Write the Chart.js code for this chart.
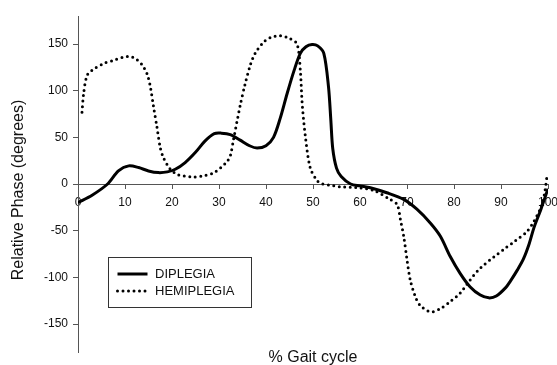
<!DOCTYPE html>
<html>
<head>
<meta charset="utf-8">
<script src="https://cdn.jsdelivr.net/npm/chart.js@4.4.1/dist/chart.umd.min.js"></script>
<style>
  html, body { margin: 0; padding: 0; background: #fff; }
  #wrap { width: 557px; height: 365px; }
</style>
</head>
<body>
<div id="wrap"><canvas id="phaseChart" width="557" height="365"></canvas></div>
<script>
// % gait cycle vs relative phase (degrees)
const dipX = [0, 3, 6.3, 8.6, 10.8, 12.9, 15, 17.1, 19, 20.7, 22.8, 25, 27, 29, 30.5, 32.4, 34.5, 36.5, 38.1, 40, 41.6, 43, 44.5, 46, 47.3, 48.5, 49.8, 51, 52.3, 53.3, 53.8, 54.2, 55, 56, 58, 60, 62.2, 65.7, 69.3, 72.1, 75, 77.1, 79.2, 81.3, 83.4, 85.6, 87.4, 89, 91, 92, 93.5, 94.8, 96, 97, 98.5, 100];
const dipY = [-20, -12, 0, 14, 19.4, 17.6, 14, 12.2, 13, 15.8, 23, 34, 46, 54, 54.5, 53, 47, 41, 38.5, 41, 50, 70, 97, 122, 140, 147, 149.5, 148, 140, 104, 68, 38, 17, 8, 0, -2, -4, -9.4, -16.5, -27, -42, -56, -77.7, -95.7, -110, -119, -122, -120, -111, -104, -92, -80, -64, -47, -27, -5];

const hemX = [0.85, 1.2, 1.9, 3, 5.4, 7.9, 9.7, 11.1, 12.2, 13.6, 14.7, 15.4, 16.1, 16.8, 17.5, 18.2, 19.6, 21, 22.5, 24.6, 27, 28.9, 30.5, 31.7, 32.4, 33.1, 34.5, 35.5, 36.7, 37.7, 39.5, 41, 43, 45, 46.6, 47.3, 47.7, 48.4, 49.4, 50.8, 51.9, 53.3, 55.8, 58, 60, 63, 66.4, 67.9, 68.6, 69.3, 70, 70.7, 71.8, 72.8, 75, 77.1, 79.2, 81.3, 83.4, 85.2, 86.3, 88.5, 90.6, 93, 95.5, 97, 98.4, 99.2, 99.8];
const hemY = [77, 97, 116, 122, 129, 133, 136, 136.5, 134.5, 128, 118, 104, 82, 61, 39, 28, 16, 10.5, 8.6, 7.5, 9, 12, 18, 24, 30, 48, 84, 106, 128, 140, 152, 157, 159, 156, 150, 122, 86, 50, 17.6, 4, 0.3, -1, -3, -3.5, -4, -7, -16.5, -22, -38, -56, -81, -103, -121, -130, -137, -133.5, -126, -117, -103, -92, -87, -78, -70, -61, -51, -40, -26, -12, 9];

const yTickValues = [-150, -100, -50, 0, 50, 100, 150];
const seriesNames = ['DIPLEGIA', 'HEMIPLEGIA'];

const pts = (xs, ys) => xs.map((x, i) => ({ x: x, y: ys[i] }));
const FONT = 'Liberation Sans, Arial, sans-serif';
const axisColor = '#555';
const textColor = '#111';

// axis titles: x title at the very bottom (the x axis itself crosses at y = 0)
const axisTitles = {
    id: 'axisTitles',
    afterDraw(chart) {
        const { ctx, chartArea } = chart;
        ctx.save();
        ctx.font = '16px ' + FONT;
        ctx.fillStyle = textColor;
        ctx.textAlign = 'center';
        ctx.textBaseline = 'middle';
        ctx.fillText('% Gait cycle', (chartArea.left + chartArea.right) / 2, 358);
        ctx.translate(19, 190);
        ctx.rotate(-Math.PI / 2);
        ctx.fillText('Relative Phase (degrees)', 0, 0);
        ctx.restore();
    }
};

// boxed legend inside the plot, lower left
const boxLegend = {
    id: 'boxLegend',
    afterDraw(chart) {
        const { ctx } = chart;
        const x0 = 108.5, y0 = 257.5, w = 143, h = 50;
        ctx.save();
        ctx.fillStyle = '#fff';
        ctx.fillRect(x0, y0, w, h);
        ctx.strokeStyle = '#333';
        ctx.lineWidth = 1;
        ctx.strokeRect(x0, y0, w, h);
        chart.data.datasets.forEach((ds, i) => {
            const y = y0 + 16.5 + i * 17;
            ctx.beginPath();
            ctx.lineWidth = ds.borderWidth;
            ctx.strokeStyle = ds.borderColor;
            ctx.lineCap = ds.borderCapStyle || 'butt';
            ctx.setLineDash(ds.borderDash || []);
            ctx.moveTo(x0 + 9, y);
            ctx.lineTo(x0 + 39, y);
            ctx.stroke();
            ctx.setLineDash([]);
            ctx.font = '13px ' + FONT;
            ctx.fillStyle = textColor;
            ctx.textBaseline = 'middle';
            ctx.fillText(ds.label, x0 + 46.5, y + 0.5);
        });
        ctx.restore();
    }
};

new Chart(document.getElementById('phaseChart'), {
    type: 'line',
    data: {
        datasets: [
            { label: seriesNames[0], data: pts(dipX, dipY), borderColor: '#000', borderWidth: 3, pointRadius: 0, tension: 0.3, fill: false },
            { label: seriesNames[1], data: pts(hemX, hemY), borderColor: '#000', borderWidth: 3, borderDash: [0, 5.5], borderCapStyle: 'round', pointRadius: 0, tension: 0.3, fill: false }
        ]
    },
    options: {
        responsive: false,
        animation: false,
        layout: { padding: { left: 9, right: 9, top: 16, bottom: 13 } },
        plugins: { legend: { display: false }, tooltip: { enabled: false } },
        scales: {
            x: {
                type: 'linear',
                position: { y: 0 },
                min: 0, max: 100,
                ticks: { stepSize: 10, font: { family: FONT, size: 12 }, color: textColor, padding: 7 },
                grid: { drawOnChartArea: false, tickLength: 4, color: axisColor },
                border: { color: axisColor, width: 1 },
                afterFit: s => { s.paddingLeft = 0; s.paddingRight = 0; }
            },
            y: {
                type: 'linear',
                min: -180, max: 180,
                afterBuildTicks: s => { s.ticks = yTickValues.map(v => ({ value: v })); },
                afterFit: s => { s.width = 69; },
                ticks: { font: { family: FONT, size: 12 }, color: textColor, padding: 5 },
                grid: { drawOnChartArea: false, tickLength: 5, color: axisColor },
                border: { color: axisColor, width: 1 }
            }
        }
    },
    plugins: [axisTitles, boxLegend]
});
</script>
</body>
</html>
